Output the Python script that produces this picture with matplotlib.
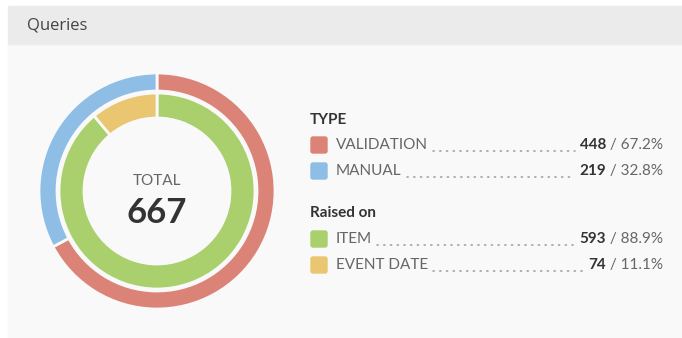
import matplotlib.pyplot as plt
from matplotlib.patches import Rectangle, FancyBboxPatch

plt.rcParams['font.family'] = ['Lato', 'DejaVu Sans']

# query counts
type_labels = ["VALIDATION", "MANUAL"]
type_counts = [448, 219]
type_colors = ["#db8376", "#8ebde5"]

raised_labels = ["ITEM", "EVENT DATE"]
raised_counts = [593, 74]
raised_colors = ["#a9d06c", "#eac670"]

total = sum(type_counts)

W, H = 682, 338
fig = plt.figure(figsize=(W / 100, H / 100), dpi=100)
ax = fig.add_axes([0, 0, 1, 1])


def py(y):
    # pixel rows counted from the top
    return H - y


# panel background and header strip
ax.add_patch(Rectangle((8, 0), W - 8, py(44), color="#f9f9f9", zorder=0))
ax.add_patch(Rectangle((8, py(44)), W - 8, 38, color="#ebebeb", zorder=0))
ax.text(27, py(25), "Queries", fontsize=12, color="#444444", va="center",
        family=["Open Sans", "DejaVu Sans"])

# two rings: type outside, raised-on inside
cx, cy = 157, py(191)
ax.pie(type_counts, colors=type_colors, startangle=90, counterclock=False,
       center=(cx, cy), radius=118, frame=True,
       wedgeprops=dict(width=18, edgecolor="#f9f9f9", linewidth=2))
ax.pie(raised_counts, colors=raised_colors, startangle=90, counterclock=False,
       center=(cx, cy), radius=98, frame=True,
       wedgeprops=dict(width=25, edgecolor="#f9f9f9", linewidth=2))
ax.set_xlim(0, W)
ax.set_ylim(0, H)
ax.set_aspect("auto")
ax.axis("off")

ax.text(cx, py(181), "TOTAL", fontsize=11, color="#666666", ha="center", va="center")
ax.text(cx, py(213), str(total), fontsize=25, fontweight="bold", color="#333333",
        ha="center", va="center")

# legend rows
groups = [
    ("TYPE", 120, type_labels, type_counts, type_colors, [145, 171]),
    ("Raised on", 213, raised_labels, raised_counts, raised_colors, [239, 265]),
]
x_sw, x_lab, x_right = 310, 336, 663
fs = 11

fig.canvas.draw()
renderer = fig.canvas.get_renderer()


def width_px(t):
    return t.get_window_extent(renderer).width


for title, ty, labels, counts, colors, rows in groups:
    ax.text(x_sw, py(ty), title, fontsize=fs, fontweight="bold", color="#333333",
            va="center")
    n = sum(counts)
    for lab, cnt, col, ry in zip(labels, counts, colors, rows):
        ax.add_patch(FancyBboxPatch((x_sw + 1, py(ry) - 8), 16, 16,
                                    boxstyle="round,pad=0,rounding_size=2",
                                    color=col, zorder=2))
        t_lab = ax.text(x_lab, py(ry), lab, fontsize=fs, color="#666666", va="center")
        t_pct = ax.text(x_right, py(ry), f" / {cnt / n * 100:.1f}%", fontsize=fs,
                        color="#666666", va="center", ha="right")
        w_pct = width_px(t_pct)
        t_cnt = ax.text(x_right - w_pct, py(ry), str(cnt), fontsize=fs,
                        fontweight="bold", color="#333333", va="center", ha="right")
        w_cnt = width_px(t_cnt)
        x0 = x_lab + width_px(t_lab) + 5
        x1 = x_right - w_pct - w_cnt - 5
        ax.plot([x0, x1], [py(ry) - 5.5, py(ry) - 5.5], color="#999999", lw=1.1,
                linestyle=(0, (0.8, 3.6)), dash_capstyle="round")

fig.savefig("out.png", dpi=100, facecolor="white")
